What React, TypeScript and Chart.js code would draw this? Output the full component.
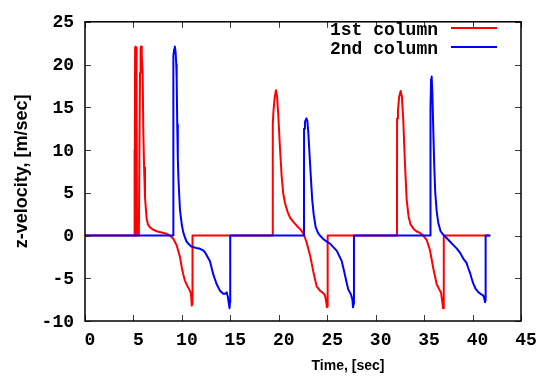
import React, { useEffect, useRef } from "react";
import { Chart, registerables } from "chart.js";

Chart.register(...registerables);

const xTickValues = [0, 5, 10, 15, 20, 25, 30, 35, 40, 45];
const yTickValues = [-10, -5, 0, 5, 10, 15, 20, 25];
const seriesLabels = ["1st column", "2nd column"];
const seriesColors = ["#ff0000", "#0000ff"];
const xTitle = "Time, [sec]";
const yTitle = "z-velocity, [m/sec]";

const col1Time = [
  0, 5.08, 5.09, 5.11, 5.16, 5.17, 5.2, 5.22, 5.25, 5.28, 5.31, 5.34, 5.37, 5.56, 5.62, 5.68, 5.74, 5.78,
  5.86, 5.95, 6.02, 6.1, 6.19, 6.36, 6.5, 6.71, 7.0, 7.4, 7.9, 8.43, 8.77, 9.11, 9.46, 9.8, 10.0, 10.14,
  10.32, 10.56, 10.76, 10.91, 10.97, 11.02, 11.06, 11.09, 11.1,
  19.37, 19.38, 19.45, 19.56, 19.71, 19.82, 19.95, 20.12, 20.3, 20.45, 20.64, 20.9, 21.16, 21.5, 21.85,
  22.2, 22.45, 22.63, 22.88, 23.22, 23.56, 23.91, 24.25, 24.6, 24.77, 24.87, 24.97, 25.01, 25.04, 25.05,
  32.2, 32.21, 32.3, 32.42, 32.58, 32.7, 32.85, 33.02, 33.2, 33.4, 33.6, 33.9, 34.2, 34.57, 34.91,
  35.26, 35.6, 35.94, 36.3, 36.56, 36.75, 36.88, 36.95, 37.0, 37.04, 37.05, 41.75,
];
const col1Vel = [
  0, 0, 10, 0, 0, 22.0, 20.8, 0, 22.1, 0, 22.0, 14, 0, 0, 10, 19, 21.8, 22.1,
  21.0, 19.0, 12.0, 8.0, 4.5, 2.0, 1.3, 0.95, 0.7, 0.5, 0.35, 0.2, 0, -0.37, -1.13, -2.5, -3.8, -4.55,
  -5.3, -5.9, -6.3, -6.7, -7.3, -8.2, -7.6, -8.0, 0,
  0, 13.0, 14.5, 16.0, 17.0, 16.3, 14.1, 10.3, 6.9, 5.0, 3.8, 2.8, 2.1, 1.6, 1.15,
  0.75, 0.4, 0, -0.85, -2.27, -4.2, -5.95, -6.45, -6.75, -7.0, -7.6, -8.4, -7.9, -8.3, 0,
  0, 13.7, 14.6, 16.2, 16.9, 16.3, 13.5, 8.5, 4.2, 2.2, 1.3, 0.8, 0.5, 0.3, 0,
  -0.5, -1.7, -3.8, -5.7, -6.3, -6.7, -7.8, -8.5, -7.8, -8.3, 0, 0,
];

const col2Time = [
  0, 9.11, 9.12, 9.2, 9.27, 9.35, 9.42, 9.46, 9.52, 9.58, 9.65, 9.8, 10.0, 10.14, 10.3, 10.48, 10.7, 11.0,
  11.5, 11.87, 12.2, 12.38, 12.6, 12.9, 13.24, 13.59, 13.93, 14.27, 14.5, 14.62, 14.75, 14.85, 14.92, 14.97,
  14.99,
  22.6, 22.61, 22.7, 22.85, 22.95, 23.05, 23.15, 23.3, 23.45, 23.6, 23.8, 24.05, 24.25, 24.58, 25.0, 25.29,
  25.99, 26.5, 26.75, 27.0, 27.17, 27.45, 27.6, 27.66, 27.72, 27.76,
  35.65, 35.66, 35.72, 35.78, 35.85, 35.95, 36.05, 36.15, 36.3, 36.46, 36.7, 36.97, 37.32, 37.66, 38.0,
  38.35, 38.7, 39.04, 39.38, 39.55, 39.72, 39.9, 40.07, 40.3, 40.58, 40.85, 41.1, 41.22, 41.28, 41.32,
  41.35, 41.75,
];
const col2Vel = [
  0, 0, 21.0, 21.8, 22.1, 21.5, 20.0, 18.5, 13.0, 9.0, 6.5, 3.0, 1.2, 0.4, -0.2, -0.7, -1.0, -1.3,
  -1.45, -1.55, -1.75, -1.95, -2.4, -3.0, -4.55, -5.7, -6.45, -6.8, -6.8, -6.65, -7.2, -8.0, -8.5, -7.8,
  0,
  0, 12.5, 13.3, 13.7, 13.4, 12.0, 10.0, 7.0, 4.2, 2.5, 1.0, 0.3, 0, -0.4, -0.75, -0.95,
  -1.8, -3.0, -4.2, -5.5, -6.3, -6.9, -7.5, -8.4, -8.0, 0,
  0, 15.0, 18.3, 18.6, 16.7, 12.2, 8.0, 5.0, 2.8, 1.5, 0.5, 0.1, -0.3, -0.7, -1.1,
  -1.5, -2.0, -2.7, -3.2, -3.8, -4.3, -5.0, -5.6, -6.2, -6.6, -6.85, -7.0, -7.4, -7.8, -7.6,
  0, 0,
];

const MONO = '"Liberation Mono", "Courier New", monospace';
const SANS = '"Liberation Sans", Arial, Helvetica, sans-serif';

function toPoints(ts: number[], vs: number[]) {
  return ts.map((t, i) => ({ x: t, y: vs[i] }));
}

const framePlugin = {
  id: "gnuplotFrame",
  afterDatasetsDraw(chart: any) {
    const { ctx, chartArea, scales } = chart;
    const { left, right, top, bottom } = chartArea;
    const xs = scales.x;
    const ys = scales.y;
    ctx.save();
    // inward ticks on all four sides
    ctx.strokeStyle = "#3a3a3a";
    ctx.lineWidth = 1;
    const tl = 6;
    ctx.beginPath();
    for (const v of xTickValues) {
      const px = Math.round(xs.getPixelForValue(v)) + 0.5;
      ctx.moveTo(px, bottom);
      ctx.lineTo(px, bottom - tl);
      ctx.moveTo(px, top);
      ctx.lineTo(px, top + tl);
    }
    for (const v of yTickValues) {
      const py = Math.round(ys.getPixelForValue(v)) + 0.5;
      ctx.moveTo(left, py);
      ctx.lineTo(left + tl, py);
      ctx.moveTo(right, py);
      ctx.lineTo(right - tl, py);
    }
    ctx.stroke();
    // border box
    ctx.strokeStyle = "#000";
    ctx.lineWidth = 1.5;
    ctx.strokeRect(left, top, right - left, bottom - top);

    // legend (text right-aligned, sample line after it)
    ctx.font = `bold 18px ${MONO}`;
    ctx.textAlign = "right";
    ctx.textBaseline = "middle";
    const legendRows = [29, 48];
    chart.data.datasets.forEach((ds: any, i: number) => {
      const y = legendRows[i];
      ctx.fillStyle = "#000";
      ctx.fillText(ds.label, 438, y + 1);
      ctx.strokeStyle = ds.borderColor;
      ctx.lineWidth = 2;
      ctx.beginPath();
      ctx.moveTo(451, y - 1);
      ctx.lineTo(497, y - 1);
      ctx.stroke();
    });

    // axis titles
    ctx.fillStyle = "#000";
    ctx.font = `bold 14px ${SANS}`;
    ctx.textAlign = "center";
    ctx.textBaseline = "middle";
    ctx.fillText(xTitle, 348, 366);
    ctx.save();
    ctx.translate(22, (top + bottom) / 2);
    ctx.rotate(-Math.PI / 2);
    ctx.font = `bold 18px ${SANS}`;
    ctx.fillText(yTitle, 0, 0);
    ctx.restore();
    ctx.restore();
  },
};

export default function App() {
  const canvasRef = useRef<HTMLCanvasElement | null>(null);

  useEffect(() => {
    const canvas = canvasRef.current;
    if (!canvas) return;
    const chart = new Chart(canvas, {
      type: "line",
      data: {
        datasets: [
          {
            label: seriesLabels[0],
            data: toPoints(col1Time, col1Vel),
            borderColor: seriesColors[0],
            backgroundColor: seriesColors[0],
            borderWidth: 2,
            borderJoinStyle: "round",
            borderCapStyle: "round",
            pointRadius: 0,
            tension: 0,
            order: 1,
          },
          {
            label: seriesLabels[1],
            data: toPoints(col2Time, col2Vel),
            borderColor: seriesColors[1],
            backgroundColor: seriesColors[1],
            borderWidth: 2,
            borderJoinStyle: "round",
            borderCapStyle: "round",
            pointRadius: 0,
            tension: 0,
            order: 0,
          },
        ],
      },
      options: {
        responsive: false,
        animation: false,
        devicePixelRatio: 1,
        layout: { padding: { left: 0, right: 24, top: 14, bottom: 0 } },
        plugins: {
          legend: { display: false },
          tooltip: { enabled: false },
        },
        scales: {
          x: {
            type: "linear",
            min: 0,
            max: 45,
            afterFit: (s: any) => {
              s.height = 56;
            },
            afterBuildTicks: (s: any) => {
              s.ticks = xTickValues.map((v) => ({ value: v }));
            },
            grid: { display: false, drawTicks: false },
            border: { display: false },
            ticks: {
              padding: 9,
              labelOffset: 5,
              maxRotation: 0,
              autoSkip: false,
              color: "#000",
              font: { family: MONO, size: 18, weight: "bold" },
            },
          },
          y: {
            type: "linear",
            min: -10,
            max: 25,
            afterFit: (s: any) => {
              s.width = 85;
            },
            afterBuildTicks: (s: any) => {
              s.ticks = yTickValues.map((v) => ({ value: v }));
            },
            grid: { display: false, drawTicks: false },
            border: { display: false },
            ticks: {
              padding: 11,
              labelOffset: 1,
              autoSkip: false,
              color: "#000",
              font: { family: MONO, size: 18, weight: "bold" },
            },
          },
        },
      },
      plugins: [framePlugin],
    });
    return () => chart.destroy();
  }, []);

  return (
    <div style={{ position: "fixed", left: 0, top: 0, width: 545, height: 377, background: "#fff" }}>
      <canvas ref={canvasRef} width={545} height={377} />
    </div>
  );
}
